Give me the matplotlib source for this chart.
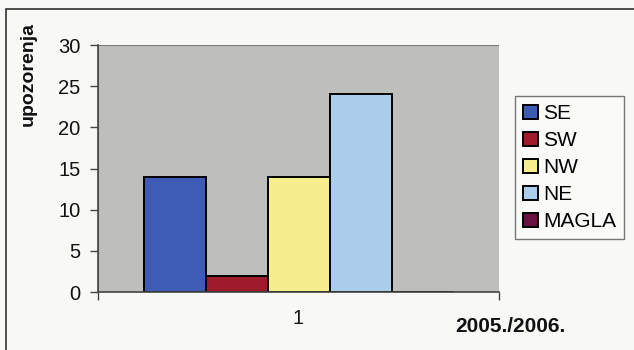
import matplotlib
matplotlib.use("Agg")
import matplotlib.pyplot as plt
from matplotlib.patches import Rectangle

plt.rcParams['font.family'] = ['Liberation Sans', 'DejaVu Sans']

series = ["SE", "SW", "NW", "NE", "MAGLA"]
values = [14, 2, 14, 24, 0]
colors = ["#3F5CB4", "#9E1B2C", "#F6EE8C", "#A9CDEA", "#6A1141"]
category = "1"
y_ticks = [0, 5, 10, 15, 20, 25, 30]

W, H = 634, 350
fig = plt.figure(figsize=(W / 100, H / 100), dpi=100)
fig.patch.set_facecolor("#F8F8F6")

# outer chart frame
fig.patches.append(Rectangle((6 / W, -0.1), 1.1, 1 - 9 / H + 0.1,
                             transform=fig.transFigure, fill=False,
                             edgecolor="#333333", linewidth=1.2))

ax = fig.add_axes([98 / W, 1 - 292 / H, (499 - 98) / W, (292 - 45) / H])
ax.set_facecolor("#BEBEBC")

bar_w = 62 / 401
n = len(series)
for i, (name, v, c) in enumerate(zip(series, values, colors)):
    x = (i - (n - 1) / 2) * bar_w
    ax.bar(x, v, width=bar_w, color=c, edgecolor="black", linewidth=1.4,
           label=name)

ax.set_xlim(-0.5, 0.5)
ax.set_ylim(0, 30)
ax.set_yticks(y_ticks)
ax.set_xticks([-0.5, 0.5])
ax.set_xticklabels(["", ""])
ax.tick_params(axis="y", labelsize=14.5, length=5.5, width=1, color="#444444",
               pad=7, labelcolor="#111111")
ax.tick_params(axis="x", length=5.5, width=1, color="#444444")
for s in ["top", "right"]:
    ax.spines[s].set_visible(False)
ax.spines["left"].set_color("#444444")
ax.spines["bottom"].set_color("#444444")
ax.spines["left"].set_linewidth(1.2)
ax.spines["bottom"].set_linewidth(1.2)

# plot area outline
ax.add_patch(Rectangle((0, 0), 1, 1, transform=ax.transAxes, fill=False,
                       edgecolor="#7A7A7A", linewidth=0.8, zorder=0.5))

fig.text(298 / W, 1 - 318 / H, category, fontsize=14.5, ha="center",
         va="center", color="#111111")
fig.text(510 / W, 1 - 326 / H, "2005./2006.", fontsize=15,
         fontweight="bold", ha="center", va="center", color="#111111")
fig.text(28 / W, 1 - 22 / H, "upozorenja", fontsize=14, fontweight="bold",
         rotation=90, ha="center", va="top", color="#111111")

leg = fig.legend(loc="upper left", bbox_to_anchor=(515 / W, 1 - 96 / H),
                 bbox_transform=fig.transFigure, fontsize=15, frameon=True,
                 fancybox=False, edgecolor="#555555", handlelength=0.7,
                 handleheight=0.65, handletextpad=0.25, labelspacing=0.38,
                 borderpad=0.4, borderaxespad=0)
leg.get_frame().set_linewidth(1.0)
leg.get_frame().set_facecolor("#FBFBFA")
for h in leg.legend_handles:
    h.set_linewidth(1.4)

fig.savefig("out.png", dpi=100, facecolor=fig.get_facecolor())
